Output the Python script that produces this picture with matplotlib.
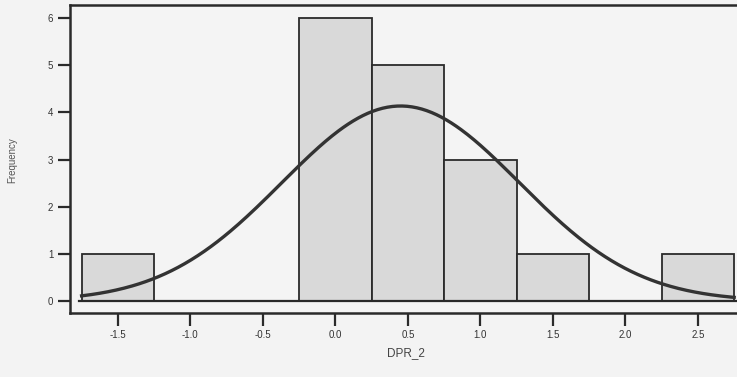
import numpy as np
import matplotlib
matplotlib.use("Agg")
import matplotlib.pyplot as plt

plt.rcParams['font.family'] = ['Liberation Sans', 'DejaVu Sans']

# Histogram data (bin centers and frequencies)
bin_centers = [-1.5, 0.0, 0.5, 1.0, 1.5, 2.5]
frequencies = [1, 6, 5, 3, 1, 1]
bin_width = 0.5

# Fitted normal curve parameters
curve_mean = 0.45
curve_sd = 0.82
curve_n = 17
curve_range = (-1.75, 2.75)

x_ticks = [-1.5, -1.0, -0.5, 0.0, 0.5, 1.0, 1.5, 2.0, 2.5]
x_tick_labels = ['-1.5', '-1.0', '-0.5', '0.0', '0.5', '1.0', '1.5', '2.0', '2.5']
y_ticks = [0, 1, 2, 3, 4, 5, 6]

fig = plt.figure(figsize=(7.37, 3.77), dpi=100, facecolor='#f3f3f3')
ax = fig.add_axes([70/737, (377-313)/377, 672/737, 308/377])
ax.set_facecolor('#f4f4f4')

ax.bar(bin_centers, frequencies, width=bin_width, color='#d9d9d9',
       edgecolor='#2a2a2a', linewidth=1.3, zorder=2)

xs = np.linspace(curve_range[0], curve_range[1], 400)
ys = curve_n * bin_width / (curve_sd * np.sqrt(2 * np.pi)) * np.exp(-0.5 * ((xs - curve_mean) / curve_sd) ** 2)
ax.plot(xs, ys, color='#333333', linewidth=2.4, zorder=3)

ax.plot([-1.77, 2.85], [0, 0], color='#2a2a2a', linewidth=1.6, zorder=4, clip_on=False)

ax.set_xlim(-1.83, 2.804)
ax.set_ylim(-0.25, 6.275)
ax.set_xticks(x_ticks)
ax.set_xticklabels(x_tick_labels)
ax.set_yticks(y_ticks)

for s in ax.spines.values():
    s.set_linewidth(1.8)
    s.set_color('#2a2a2a')

ax.tick_params(axis='both', direction='out', length=9, width=1.6, color='#2a2a2a',
               labelsize=7, labelcolor='#333333', pad=3)

ax.set_xlabel('DPR_2', fontsize=8.5, color='#444444', labelpad=5)
fig.text(12/737, 1 - 160/377, 'Frequency', rotation=90, fontsize=7, color='#555555',
         ha='center', va='center')

fig.savefig('out.png', dpi=100, facecolor=fig.get_facecolor())
